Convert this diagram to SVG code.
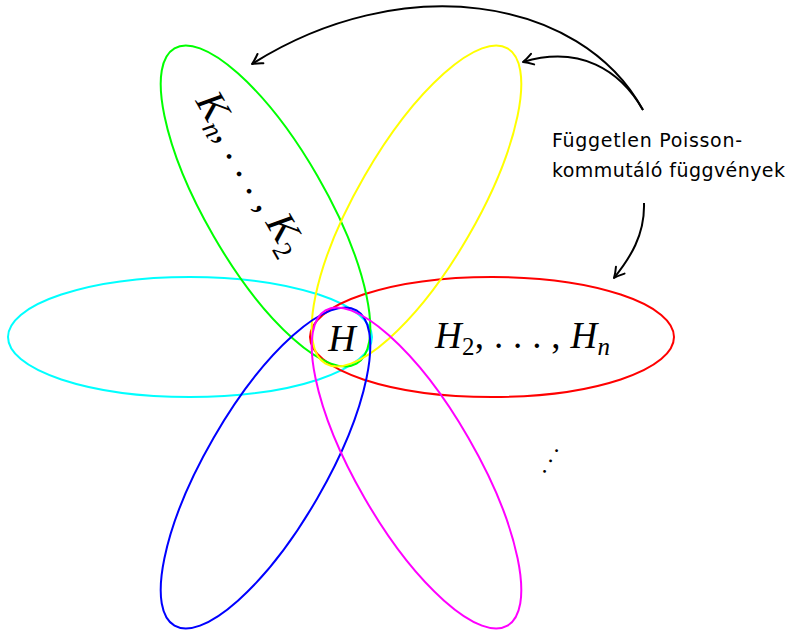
<svg xmlns="http://www.w3.org/2000/svg" width="791" height="630" viewBox="0 0 791 630">
<style>
.el{fill:none;stroke-width:2}
.math{font-family:"Liberation Serif","DejaVu Serif",serif;font-style:italic;fill:#000}
.rm{font-style:normal}
.lbl{font-family:"DejaVu Sans","Liberation Sans",sans-serif;font-size:19px;fill:#000}
.arr{fill:none;stroke:#000;stroke-width:2;marker-end:url(#ah)}
</style>
<defs>
<marker id="ah" viewBox="-12 -7 14 14" markerWidth="14" markerHeight="14" refX="0" refY="0" orient="auto" markerUnits="userSpaceOnUse">
<path d="M -10 -5.5 Q -4 -1.5 0 0 Q -4 1.5 -10 5.5" fill="none" stroke="#000" stroke-width="2" stroke-linecap="round" stroke-linejoin="round"/>
</marker>
</defs>
<g id="cyan"><ellipse class="el" stroke="#00ffff" cx="190" cy="337" rx="182" ry="60"/></g>
<g id="red"><ellipse class="el" stroke="#ff0000" cx="492" cy="337" rx="182" ry="60"/></g>
<g id="green"><ellipse class="el" stroke="#00ff00" cx="265.5" cy="206" rx="182" ry="60" transform="rotate(60 265.5 206)"/></g>
<g id="yellow"><ellipse class="el" stroke="#ffff00" cx="416.5" cy="206" rx="182" ry="60" transform="rotate(-60 416.5 206)"/></g>
<g id="blue"><ellipse class="el" stroke="#0000ff" cx="265.5" cy="468" rx="182" ry="60" transform="rotate(-60 265.5 468)"/></g>
<g id="magenta"><ellipse class="el" stroke="#ff00ff" cx="416.5" cy="468" rx="182" ry="60" transform="rotate(60 416.5 468)"/></g>
<g id="labels">
<text class="math" x="342" y="351" font-size="38" text-anchor="middle">H</text>
<text class="math" x="435" y="348" font-size="37" textLength="175" lengthAdjust="spacing">H<tspan font-size="25" dy="7" class="rm">2</tspan><tspan dy="-7" class="rm">, . . . , </tspan>H<tspan font-size="25" dy="7">n</tspan></text>
<text class="math" font-size="40" transform="translate(195 101) rotate(60)">K<tspan font-size="27" dy="8">n</tspan><tspan dy="-8" class="rm">, . . . , </tspan>K<tspan font-size="27" dy="8" class="rm">2</tspan></text>
<text class="math rm" font-size="24" transform="translate(551.5 461.5) rotate(-60)" text-anchor="middle">. . .</text>
</g>
<g id="note">
<text class="lbl" x="552" y="147" textLength="190" lengthAdjust="spacing">Független Poisson-</text>
<text class="lbl" x="552" y="177" textLength="233" lengthAdjust="spacing">kommutáló függvények</text>
</g>
<g id="connectors">
<path class="arr" d="M 643 110 C 580 -5, 400 -30, 252 64"/>
<path class="arr" d="M 643 110 C 620 70, 580 45, 523 62"/>
<path class="arr" d="M 644 203 C 645 235, 630 258, 614 278"/>
</g>
</svg>
